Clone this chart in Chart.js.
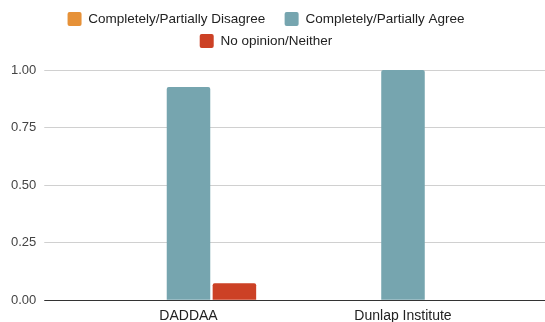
<!DOCTYPE html>
<html>
<head>
<meta charset="utf-8">
<script src="https://cdn.jsdelivr.net/npm/chart.js@4"></script>
<style>
  html, body { margin: 0; padding: 0; background: #ffffff; }
  #wrap { width: 545px; height: 322px; position: relative; }
</style>
</head>
<body>
<div id="wrap"><canvas id="c"></canvas></div>
<script>
// Survey responses, share of respondents per organisation
const categories = ['DADDAA', 'Dunlap Institute'];
const seriesNames = ['Completely/Partially Disagree', 'Completely/Partially Agree', 'No opinion/Neither'];
const disagree = [0, 0];
const agree = [0.926, 1.0];
const neither = [0.074, 0];
const yTickValues = [0, 0.25, 0.5, 0.75, 1];

const COLORS = ['#e69138', '#76a5af', '#cc4125'];
const GRID = '#d0d0d0';
const BASELINE = '#333333';

const gridColor = (ctx) => (ctx.tick && ctx.tick.value === 0 ? BASELINE : GRID);
const setTicks = (scale) => { scale.ticks = yTickValues.map(v => ({ value: v })); };

// Legend: narrower wrap width (two rows), centred block, gap above the plot
const legendPlacement = {
  id: 'legendPlacement',
  beforeLayout(chart) {
    const lg = chart.legend;
    if (lg && !lg._gapAdded) {
      const fit = lg.fit;
      lg.fit = function () {
        this.maxWidth = Math.min(this.maxWidth, 520);
        fit.call(this);
        if (this.height) this.height += 12;
      };
      lg._gapAdded = true;
    }
  },
  afterLayout(chart) {
    const lg = chart.legend;
    if (lg) { lg.left = 0; lg.right = 532; lg.width = 532; }
  }
};

new Chart(document.getElementById('c'), {
  type: 'bar',
  data: {
    labels: categories,
    datasets: [
      { label: seriesNames[0], data: disagree, backgroundColor: COLORS[0] },
      { label: seriesNames[1], data: agree, backgroundColor: COLORS[1] },
      { label: seriesNames[2], data: neither, backgroundColor: COLORS[2] }
    ]
  },
  options: {
    responsive: true,
    maintainAspectRatio: false,
    animation: false,
    devicePixelRatio: 1,
    layout: { padding: { top: 4, left: 0, right: 0, bottom: 0 } },
    datasets: {
      bar: {
        categoryPercentage: 0.642,
        barPercentage: 0.948,
        borderRadius: 2,
        borderWidth: 0
      }
    },
    plugins: {
      legend: {
        position: 'top',
        align: 'center',
        labels: {
          boxWidth: 14,
          boxHeight: 14,
          padding: 8,
          color: '#222222',
          useBorderRadius: true,
          borderRadius: 2,
          font: { family: '"Liberation Sans", Arial, sans-serif', size: 13.5 },
          // wider gap after the first entry on the top row
          generateLabels(chart) {
            const items = Chart.defaults.plugins.legend.labels.generateLabels(chart);
            if (items.length) items[0].text += '   ';
            return items;
          }
        }
      },
      tooltip: { enabled: false }
    },
    scales: {
      x: {
        grid: { display: false, drawTicks: false },
        border: { display: false },
        ticks: {
          color: '#222222',
          padding: 7,
          maxRotation: 0,
          font: { family: '"Liberation Sans", Arial, sans-serif', size: 14 }
        },
        afterFit(s) { s.height = 21.7; }
      },
      y: {
        min: 0,
        max: 1,
        afterBuildTicks: setTicks,
        grid: { color: gridColor, lineWidth: 1, drawTicks: true, tickLength: 37 },
        border: { display: false },
        ticks: {
          color: '#444444',
          padding: 8,
          font: { family: '"Liberation Sans", Arial, sans-serif', size: 13 },
          callback: (v) => Number(v).toFixed(2)
        },
        afterFit(s) { s.width = 81.25; }
      },
      y2: {
        type: 'linear',
        position: 'right',
        min: 0,
        max: 1,
        afterBuildTicks: setTicks,
        grid: { color: gridColor, lineWidth: 1, drawOnChartArea: false, drawTicks: true, tickLength: 35 },
        border: { display: false },
        ticks: { display: false },
        afterFit(s) { s.width = 34.75; }
      }
    }
  },
  plugins: [legendPlacement]
});
</script>
</body>
</html>
